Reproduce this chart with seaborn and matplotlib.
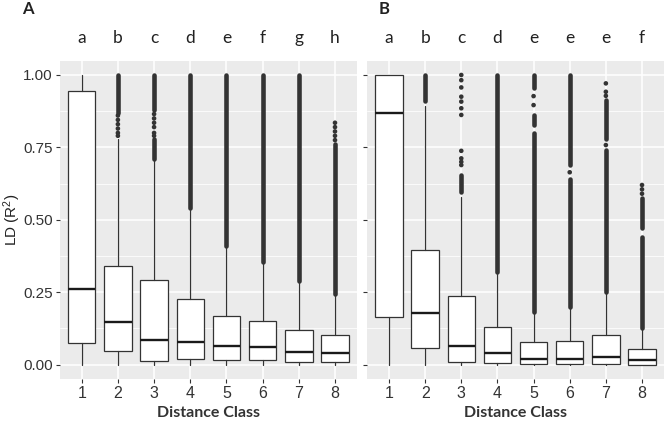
import matplotlib
matplotlib.use("Agg")
import matplotlib.pyplot as plt
import matplotlib.transforms as mtransforms
from matplotlib.ticker import FixedLocator
import pandas as pd
import seaborn as sns

# ---------------- data ----------------
classes = [1, 2, 3, 4, 5, 6, 7, 8]
y_ticks = [0.00, 0.25, 0.50, 0.75, 1.00]
y_tick_labels = ["0.00", "0.25", "0.50", "0.75", "1.00"]

letters_A = ["a", "b", "c", "d", "e", "f", "g", "h"]
letters_B = ["a", "b", "c", "d", "e", "e", "e", "f"]

# Panel A box statistics
A_whislo = [0.0, 0.0, 0.0, 0.0, 0.0, 0.0, 0.0, 0.0]
A_q1 = [0.074, 0.046, 0.012, 0.018, 0.015, 0.015, 0.009, 0.009]
A_med = [0.260, 0.146, 0.085, 0.078, 0.065, 0.059, 0.043, 0.040]
A_q3 = [0.944, 0.339, 0.291, 0.226, 0.169, 0.149, 0.120, 0.102]
A_whishi = [1.000, 0.780, 0.706, 0.534, 0.401, 0.347, 0.288, 0.240]
# Panel A outliers: dense runs (low, high) and isolated points
A_dense = [
    [],
    [(0.87, 1.00)],
    [(0.71, 0.78), (0.88, 1.00)],
    [(0.54, 1.00)],
    [(0.41, 1.00)],
    [(0.355, 1.00)],
    [(0.29, 1.00)],
    [(0.245, 0.76)],
]
A_points = [
    [],
    [0.79, 0.80, 0.815, 0.83, 0.845, 0.86],
    [0.79, 0.80, 0.82, 0.835, 0.85, 0.865],
    [], [], [], [],
    [0.775, 0.79, 0.805, 0.82, 0.835],
]

# Panel B box statistics
B_whislo = [0.0, 0.0, 0.0, 0.0, 0.0, 0.0, 0.0, 0.0]
B_q1 = [0.163, 0.056, 0.010, 0.006, 0.003, 0.003, 0.003, 0.000]
B_med = [0.870, 0.178, 0.065, 0.041, 0.020, 0.020, 0.027, 0.015]
B_q3 = [1.000, 0.394, 0.238, 0.131, 0.077, 0.082, 0.103, 0.054]
B_whishi = [1.000, 0.893, 0.580, 0.313, 0.182, 0.200, 0.246, 0.125]
B_dense = [
    [],
    [(0.91, 1.00)],
    [(0.595, 0.655)],
    [(0.32, 1.00)],
    [(0.182, 0.80), (0.827, 0.862), (0.955, 1.00)],
    [(0.20, 0.64), (0.69, 1.00)],
    [(0.25, 0.74), (0.78, 0.915)],
    [(0.126, 0.44), (0.47, 0.575)],
]
B_points = [
    [],
    [],
    [0.689, 0.70, 0.712, 0.738, 0.862, 0.885, 0.908, 0.925, 0.957, 0.982, 1.00],
    [],
    [0.896, 0.927],
    [0.664],
    [0.758, 0.928, 0.942, 0.971],
    [0.59, 0.605, 0.62],
]

# ---------------- style ----------------
sns.set_theme(style="darkgrid", rc={
    "axes.facecolor": "#EBEBEB",
    "grid.color": "white",
    "xtick.bottom": True,
    "ytick.left": True,
    "xtick.color": "#333333",
    "ytick.color": "#333333",
    "xtick.major.size": 2.9,
    "ytick.major.size": 2.9,
    "xtick.major.width": 0.8,
    "ytick.major.width": 0.8,
    "xtick.major.pad": 2.0,
    "ytick.major.pad": 2.2,
})
plt.rcParams["font.family"] = ["Liberation Sans", "DejaVu Sans"]
plt.rcParams["mathtext.default"] = "regular"

W, H = 666, 422
fig = plt.figure(figsize=(W / 100, H / 100), dpi=100)
top_px, bot_px = 60.5, 379.0
axA = fig.add_axes([60 / W, (H - bot_px) / H, (356.7 - 60) / W, (bot_px - top_px) / H])
axB = fig.add_axes([367.3 / W, (H - bot_px) / H, (663.7 - 367.3) / W, (bot_px - top_px) / H])

DARK = "#333333"
FLIER_LW = 3.3


def draw_panel(ax, whislo, q1, med, q3, whishi, dense, points, letters, show_ylabels):
    stats = []
    for lo, a, m, b, hi in zip(whislo, q1, med, q3, whishi):
        stats.append(dict(whislo=lo, q1=a, med=m, q3=b, whishi=hi, fliers=[]))
    ax.bxp(stats, positions=classes, widths=0.76, showfliers=False, showcaps=False,
           patch_artist=True, manage_ticks=False,
           boxprops=dict(facecolor="white", edgecolor=DARK, linewidth=0.9),
           medianprops=dict(color="#1a1a1a", linewidth=1.7, solid_capstyle="butt"),
           whiskerprops=dict(color=DARK, linewidth=0.9))
    # dense outlier runs
    for x, runs in zip(classes, dense):
        for lo, hi in runs:
            ax.plot([x, x], [lo, hi], color=DARK, lw=FLIER_LW, solid_capstyle="round", zorder=3)
    # isolated outliers
    rows = [(x, v) for x, vals in zip(classes, points) for v in vals]
    if rows:
        df = pd.DataFrame(rows, columns=["cls", "r2"])
        sns.scatterplot(data=df, x="cls", y="r2", ax=ax, color=DARK, s=FLIER_LW ** 2,
                        edgecolor="none", linewidth=0, legend=False, zorder=3)
    ax.set_xlim(0.4, 8.6)
    ax.set_ylim(-0.05, 1.05)
    ax.xaxis.set_major_locator(FixedLocator(classes))
    ax.set_xticklabels([str(c) for c in classes], fontsize=11.5, color="#333333")
    ax.yaxis.set_major_locator(FixedLocator(y_ticks))
    ax.yaxis.set_minor_locator(FixedLocator([0.125, 0.375, 0.625, 0.875]))
    ax.set_yticklabels(y_tick_labels, fontsize=11, color="#333333")
    ax.tick_params(axis="y", which="minor", left=False)
    ax.grid(False)
    ax.grid(which="major", color="white", linewidth=1.1)
    ax.grid(which="minor", axis="y", color="white", linewidth=0.55)
    ax.set_axisbelow(True)
    for sp in ax.spines.values():
        sp.set_visible(False)
    if not show_ylabels:
        ax.tick_params(axis="y", labelleft=False)
    ax.set_xlabel("Distance Class", fontsize=11.5, fontweight="bold",
                  fontfamily="Lato", color="#333333")
    ax.xaxis.set_label_coords(0.5, -(406 - bot_px) / (bot_px - top_px))
    trans = mtransforms.blended_transform_factory(ax.transData, ax.transAxes)
    for x, lab in zip(classes, letters):
        ax.text(x, (bot_px - 43) / (bot_px - top_px), lab, transform=trans,
                ha="center", va="baseline", fontsize=12.5, fontfamily="Lato",
                color="#222222")


draw_panel(axA, A_whislo, A_q1, A_med, A_q3, A_whishi, A_dense, A_points, letters_A, True)
draw_panel(axB, B_whislo, B_q1, B_med, B_q3, B_whishi, B_dense, B_points, letters_B, False)

axA.set_ylabel("LD (R$^2$)", fontsize=11, color="#222222")
axA.yaxis.set_label_coords(-(60 - 23) / (356.7 - 60), 0.5)
axB.set_ylabel("")

fig.text(22 / W, 1 - 13.5 / H, "A", fontsize=12, fontweight="bold", fontfamily="Lato",
         color="#222222", ha="left", va="baseline")
fig.text(379 / W, 1 - 13.5 / H, "B", fontsize=12, fontweight="bold", fontfamily="Lato",
         color="#222222", ha="left", va="baseline")

fig.savefig("out.png", dpi=100, facecolor="white")
